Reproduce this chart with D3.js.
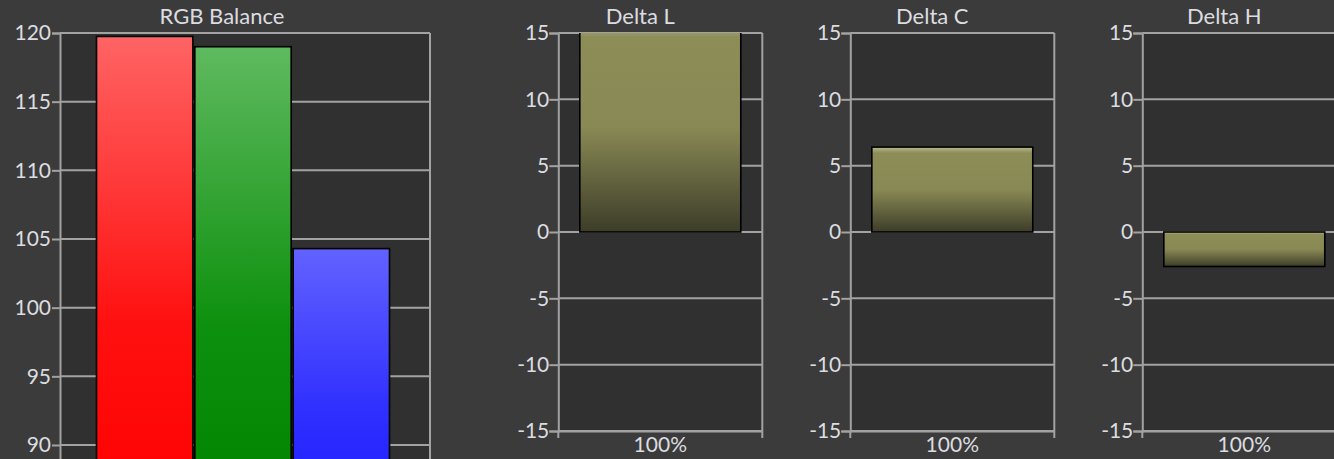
<!DOCTYPE html>
<html><head><meta charset="utf-8">
<script src="https://cdn.jsdelivr.net/npm/d3@7"></script>
<style>
html,body{margin:0;padding:0;background:#3b3b3b;overflow:hidden}
text{font-family:Lato,"Open Sans",sans-serif;fill:#dcdde0}
</style></head>
<body>
<svg id="c" width="1334" height="459"></svg>
<script>
// ---- data ----
const rgbCategories = ["Red", "Green", "Blue"];
const rgbValues = [119.75, 119.0, 104.3];
const rgbTicks = [90, 95, 100, 105, 110, 115, 120];
const deltaTitles = ["Delta L", "Delta C", "Delta H"];
const deltaCategory = ["100%"];
const deltaValues = [15.8, 6.4, -2.6];
const deltaTicks = [-15, -10, -5, 0, 5, 10, 15];

const svg = d3.select("#c");
const defs = svg.append("defs");
const grid = "#a2a2a2", plotBg = "#303030";
const fmt = d => String(d);

function grad(id, stops){
  const g = defs.append("linearGradient").attr("id", id).attr("x1",0).attr("y1",0).attr("x2",0).attr("y2",1);
  stops.forEach(s => g.append("stop").attr("offset", s[0]).attr("stop-color", s[1]));
}
grad("gR", [[0,"#ff6464"],[0.6,"#ff1010"],[1,"#ff0000"]]);
grad("gG", [[0,"#5fba5f"],[0.6,"#0d900d"],[1,"#008400"]]);
grad("gB", [[0,"#6262ff"],[0.6,"#3030ff"],[1,"#1c1cff"]]);
grad("gD", [[0,"#b9b98f"],[0.07,"#8d8d58"],[0.5,"#898955"],[1,"#3d3d29"]]);
const rgbFill = ["url(#gR)","url(#gG)","url(#gB)"];

function styleAxis(a){
  a.select(".domain").attr("stroke", grid).attr("stroke-width", 2);
  a.selectAll(".tick line").attr("stroke", grid).attr("stroke-width", 2);
  a.selectAll(".tick text").attr("font-size", 21).style("fill","#dcdde0").attr("font-family","Lato");
}

// ---- RGB Balance ----
{
  const L = 60, R = 430, T = 33;
  const y = d3.scaleLinear().domain([85, 120]).range([T + 13.733*35, T]);
  const x = d3.scaleBand().domain(rgbCategories).range([96.5, 389.5]).paddingInner(0.02);
  const g = svg.append("g");
  g.append("rect").attr("x", L).attr("y", T).attr("width", R-L).attr("height", y(85)-T).attr("fill", plotBg);
  g.selectAll(".gl").data(rgbTicks).join("line")
    .attr("x1", L).attr("x2", R).attr("y1", d=>y(d)).attr("y2", d=>y(d))
    .attr("stroke", grid).attr("stroke-width", 2);
  g.append("line").attr("x1", R).attr("x2", R).attr("y1", T).attr("y2", y(85)).attr("stroke", grid).attr("stroke-width", 2);
  const ax = g.append("g").attr("transform", `translate(${L},0)`)
    .call(d3.axisLeft(y).tickValues(rgbTicks).tickFormat(fmt).tickSize(8).tickPadding(1));
  styleAxis(ax);
  g.selectAll(".bar").data(rgbValues).join("rect")
    .attr("x", (d,i)=>x(rgbCategories[i])).attr("width", x.bandwidth())
    .attr("y", d=>y(d)).attr("height", d=>y(85)-y(d))
    .attr("fill", (d,i)=>rgbFill[i]).attr("stroke", "#000").attr("stroke-width", 1.6);
  g.append("text").attr("x", 222).attr("y", 24).attr("text-anchor","middle").attr("font-size", 22).text("RGB Balance");
}

// ---- Delta panels ----
deltaTitles.forEach((title, i) => {
  const L = 558.3 + i*292, W = 204, R = L + W, T = 33, B = 431;
  const y = d3.scaleLinear().domain([-15, 15]).range([B, T]);
  const x = d3.scaleBand().domain(deltaCategory).range([L, R]).padding(0.118);
  const g = svg.append("g");
  const cid = "clip" + i;
  defs.append("clipPath").attr("id", cid).append("rect").attr("x", L).attr("y", T).attr("width", W).attr("height", B-T);
  g.append("rect").attr("x", L).attr("y", T).attr("width", W).attr("height", B-T).attr("fill", plotBg);
  g.selectAll(".gl").data(deltaTicks).join("line")
    .attr("x1", L).attr("x2", R).attr("y1", d=>y(d)).attr("y2", d=>y(d))
    .attr("stroke", grid).attr("stroke-width", 2);
  g.append("line").attr("x1", R).attr("x2", R).attr("y1", T).attr("y2", B).attr("stroke", grid).attr("stroke-width", 2);
  const v = deltaValues[i];
  g.append("g").attr("clip-path", `url(#${cid})`).append("rect")
    .attr("x", x(deltaCategory[0])).attr("width", x.bandwidth())
    .attr("y", y(Math.max(v,0))).attr("height", Math.abs(y(v)-y(0)))
    .attr("fill", "url(#gD)").attr("stroke", "#000").attr("stroke-width", 1.6);
  const ay = g.append("g").attr("transform", `translate(${L},0)`)
    .call(d3.axisLeft(y).tickValues(deltaTicks).tickFormat(fmt).tickSize(9).tickPadding(0));
  styleAxis(ay);
  const axb = g.append("g").attr("transform", `translate(0,${B})`)
    .call(d3.axisBottom(x).tickSize(0).tickPadding(6));
  styleAxis(axb);
  g.append("line").attr("x1", L).attr("x2", L).attr("y1", B).attr("y2", B+7).attr("stroke", grid).attr("stroke-width", 2);
  g.append("line").attr("x1", R).attr("x2", R).attr("y1", B).attr("y2", B+7).attr("stroke", grid).attr("stroke-width", 2);
  g.append("text").attr("x", L + W/2 - 20).attr("y", 24).attr("text-anchor","middle").attr("font-size", 22).text(title);
});
</script>
</body></html>
